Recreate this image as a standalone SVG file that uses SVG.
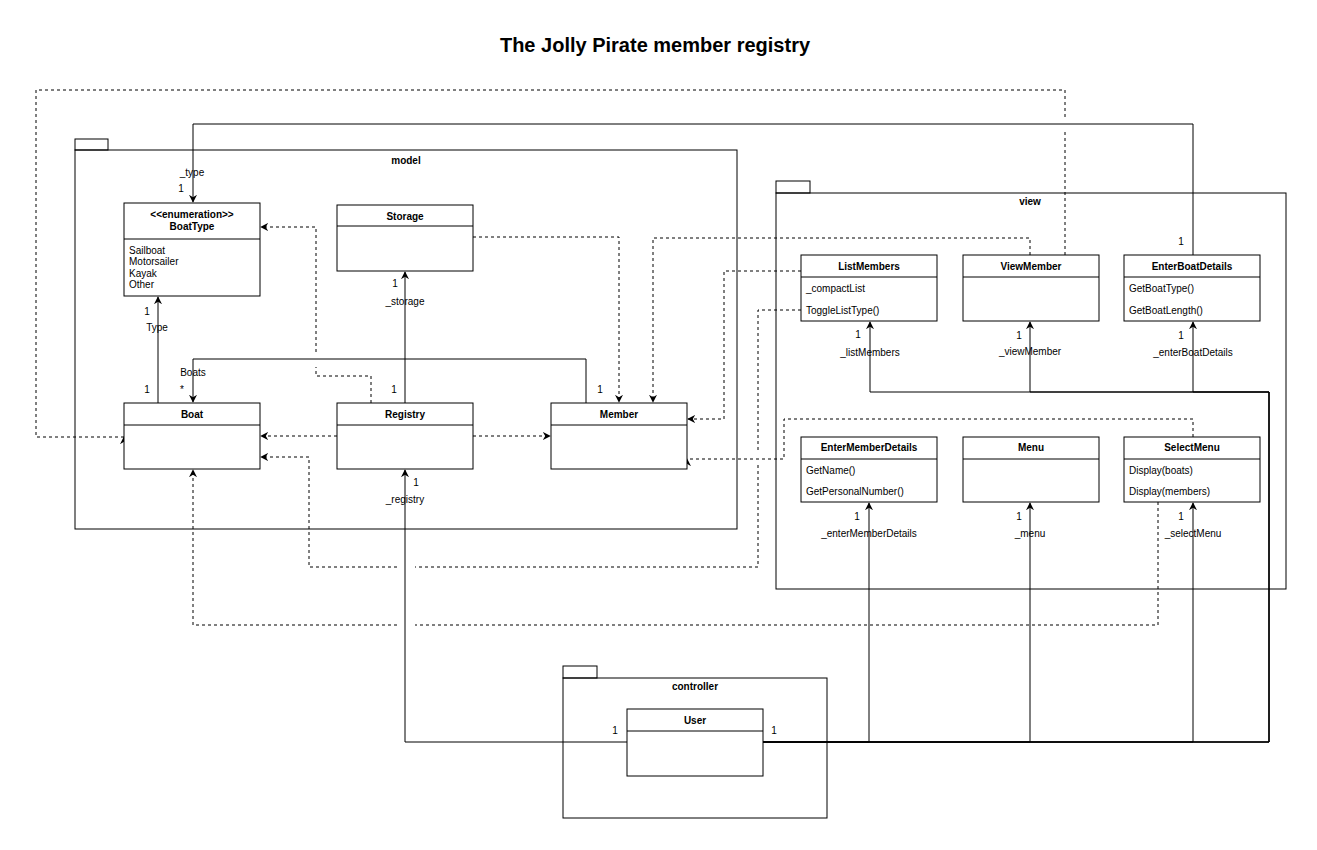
<svg xmlns="http://www.w3.org/2000/svg" width="1317" height="850" viewBox="0 0 1317 850">
<defs>
<style>
.box{fill:#fff;stroke:#000;stroke-width:1}
.pkg{fill:none;stroke:#000;stroke-width:1}
.div{stroke:#000;stroke-width:1}
.e{fill:none;stroke:#000;stroke-width:1}
.d{fill:none;stroke:#000;stroke-width:1;stroke-dasharray:3 3}
text{font-family:"Liberation Sans",Arial,Helvetica,sans-serif;font-size:10px;fill:#000}
.b{font-weight:bold}
.c{text-anchor:middle}
.t{font-size:20px;font-weight:bold;text-anchor:middle}
</style>
<marker id="a" viewBox="0 0 10 10" refX="9" refY="5" markerWidth="8" markerHeight="8" markerUnits="userSpaceOnUse" orient="auto">
<path d="M0,0 L10,5 L0,10 L3,5 z" fill="#000"/>
</marker>
<marker id="up" viewBox="0 0 10 10" refX="9" refY="5" markerWidth="8" markerHeight="8" markerUnits="userSpaceOnUse" orient="270">
<path d="M0,0 L10,5 L0,10 L3,5 z" fill="#000"/>
</marker>
</defs>
<rect width="1317" height="850" fill="#fff"/>
<text class="t" x="655" y="52">The Jolly Pirate member registry</text>

<g id="pkg-model">
<rect class="pkg" x="75" y="139" width="33" height="11"/>
<rect class="pkg" x="75" y="150" width="662" height="379"/>
<text class="b c" x="406" y="164">model</text>
</g>
<g id="pkg-view">
<rect class="pkg" x="776" y="181" width="34" height="12"/>
<rect class="pkg" x="776" y="193" width="510" height="396"/>
<text class="b c" x="1030" y="205">view</text>
</g>
<g id="pkg-controller">
<rect class="pkg" x="563" y="666" width="34" height="12"/>
<rect class="pkg" x="563" y="678" width="264" height="140"/>
<text class="b c" x="695" y="690">controller</text>
</g>

<g id="connectors">
<!-- solid associations -->
<path class="e" d="M158,403 V297" marker-end="url(#a)"/>
<path class="e" d="M586,403 V359 H193 V402" marker-end="url(#a)"/>
<path class="e" d="M405,403 V272" marker-end="url(#a)"/>
<path class="e" d="M1193,255 V124 H193 V202" marker-end="url(#a)"/>
<path class="e" d="M627,742 H405 V470" marker-end="url(#a)"/>
<path class="e" d="M763,742 H1269 V392 H870 V322" marker-end="url(#a)"/>
<path class="e" d="M763,742 H1269 V392 H1030 V322" marker-end="url(#a)"/>
<path class="e" d="M763,742 H1269 V392 H1193 V322" marker-end="url(#a)"/>
<path class="e" d="M763,742 H869 V503" marker-end="url(#a)"/>
<path class="e" d="M763,742 H1030 V503" marker-end="url(#a)"/>
<path class="e" d="M763,742 H1193 V503" marker-end="url(#a)"/>
<!-- dashed dependencies -->
<path class="d" d="M1065,255 V131 M1065,117 V90 H36 V437 H124" marker-end="url(#up)"/>
<path class="d" d="M371,403 V376 H316 V367 M316,352 V227 H261" marker-end="url(#a)"/>
<path class="d" d="M473,237 H619 V402" marker-end="url(#a)"/>
<path class="d" d="M1030,255 V238 H653 V402" marker-end="url(#a)"/>
<path class="d" d="M337,436 H261" marker-end="url(#a)"/>
<path class="d" d="M473,436 H550" marker-end="url(#a)"/>
<path class="d" d="M801,271 H724 V419 H688" marker-end="url(#a)"/>
<path class="d" d="M801,310 H758 V453 M758,465 V567 H415 M397,567 H309 V457 H261" marker-end="url(#a)"/>
<path class="d" d="M1193,437 V419 H784 V459 H687" marker-end="url(#up)"/>
<path class="d" d="M1158,502 V625 H415 M397,625 H193 V470" marker-end="url(#a)"/>
<!-- labels -->
<text class="c" x="192" y="176">_type</text>
<text class="c" x="181" y="192">1</text>
<text class="c" x="147" y="315">1</text>
<text class="c" x="157" y="331">Type</text>
<text class="c" x="193" y="376">Boats</text>
<text class="c" x="182" y="393">*</text>
<text class="c" x="147" y="393">1</text>
<text class="c" x="394" y="393">1</text>
<text class="c" x="395" y="287">1</text>
<text class="c" x="405" y="305">_storage</text>
<text class="c" x="600" y="393">1</text>
<text class="c" x="416" y="486">1</text>
<text class="c" x="405" y="503">_registry</text>
<text class="c" x="858" y="338">1</text>
<text class="c" x="870" y="356">_listMembers</text>
<text class="c" x="1019" y="339">1</text>
<text class="c" x="1030" y="355">_viewMember</text>
<text class="c" x="1181" y="339">1</text>
<text class="c" x="1193" y="356">_enterBoatDetails</text>
<text class="c" x="1181" y="245">1</text>
<text class="c" x="857" y="520">1</text>
<text class="c" x="869" y="537">_enterMemberDetails</text>
<text class="c" x="1019" y="520">1</text>
<text class="c" x="1030" y="537">_menu</text>
<text class="c" x="1181" y="520">1</text>
<text class="c" x="1193" y="537">_selectMenu</text>
<text class="c" x="615" y="734">1</text>
<text class="c" x="774" y="734">1</text>
</g>

<g id="BoatType">
<rect class="box" x="124" y="203" width="136" height="93"/>
<line class="div" x1="124" y1="239" x2="260" y2="239"/>
<text class="b c" x="192" y="218">&lt;&lt;enumeration&gt;&gt;</text>
<text class="b c" x="192" y="230">BoatType</text>
<text x="129" y="254">Sailboat</text>
<text x="129" y="265">Motorsailer</text>
<text x="129" y="277">Kayak</text>
<text x="129" y="288">Other</text>
</g>
<g id="Storage">
<rect class="box" x="337" y="205" width="136" height="66"/>
<line class="div" x1="337" y1="226" x2="473" y2="226"/>
<text class="b c" x="405" y="220">Storage</text>
</g>
<g id="Boat">
<rect class="box" x="124" y="403" width="136" height="66"/>
<line class="div" x1="124" y1="425" x2="260" y2="425"/>
<text class="b c" x="192" y="418">Boat</text>
</g>
<g id="Registry">
<rect class="box" x="337" y="403" width="136" height="66"/>
<line class="div" x1="337" y1="425" x2="473" y2="425"/>
<text class="b c" x="405" y="418">Registry</text>
</g>
<g id="Member">
<rect class="box" x="551" y="403" width="136" height="66"/>
<line class="div" x1="551" y1="425" x2="687" y2="425"/>
<text class="b c" x="619" y="418">Member</text>
</g>
<g id="ListMembers">
<rect class="box" x="801" y="255" width="136" height="66"/>
<line class="div" x1="801" y1="277" x2="937" y2="277"/>
<text class="b c" x="869" y="270">ListMembers</text>
<text x="806" y="292">_compactList</text>
<text x="806" y="314">ToggleListType()</text>
</g>
<g id="ViewMember">
<rect class="box" x="963" y="255" width="136" height="66"/>
<line class="div" x1="963" y1="277" x2="1099" y2="277"/>
<text class="b c" x="1031" y="270">ViewMember</text>
</g>
<g id="EnterBoatDetails">
<rect class="box" x="1124" y="255" width="136" height="66"/>
<line class="div" x1="1124" y1="277" x2="1260" y2="277"/>
<text class="b c" x="1192" y="270">EnterBoatDetails</text>
<text x="1129" y="292">GetBoatType()</text>
<text x="1129" y="314">GetBoatLength()</text>
</g>
<g id="EnterMemberDetails">
<rect class="box" x="801" y="437" width="136" height="65"/>
<line class="div" x1="801" y1="459" x2="937" y2="459"/>
<text class="b c" x="869" y="451">EnterMemberDetails</text>
<text x="806" y="474">GetName()</text>
<text x="806" y="495">GetPersonalNumber()</text>
</g>
<g id="Menu">
<rect class="box" x="963" y="437" width="136" height="65"/>
<line class="div" x1="963" y1="459" x2="1099" y2="459"/>
<text class="b c" x="1031" y="451">Menu</text>
</g>
<g id="SelectMenu">
<rect class="box" x="1124" y="437" width="136" height="65"/>
<line class="div" x1="1124" y1="459" x2="1260" y2="459"/>
<text class="b c" x="1192" y="451">SelectMenu</text>
<text x="1129" y="474">Display(boats)</text>
<text x="1129" y="495">Display(members)</text>
</g>
<g id="User">
<rect class="box" x="627" y="709" width="136" height="67"/>
<line class="div" x1="627" y1="731" x2="763" y2="731"/>
<text class="b c" x="695" y="724">User</text>
</g>
</svg>
